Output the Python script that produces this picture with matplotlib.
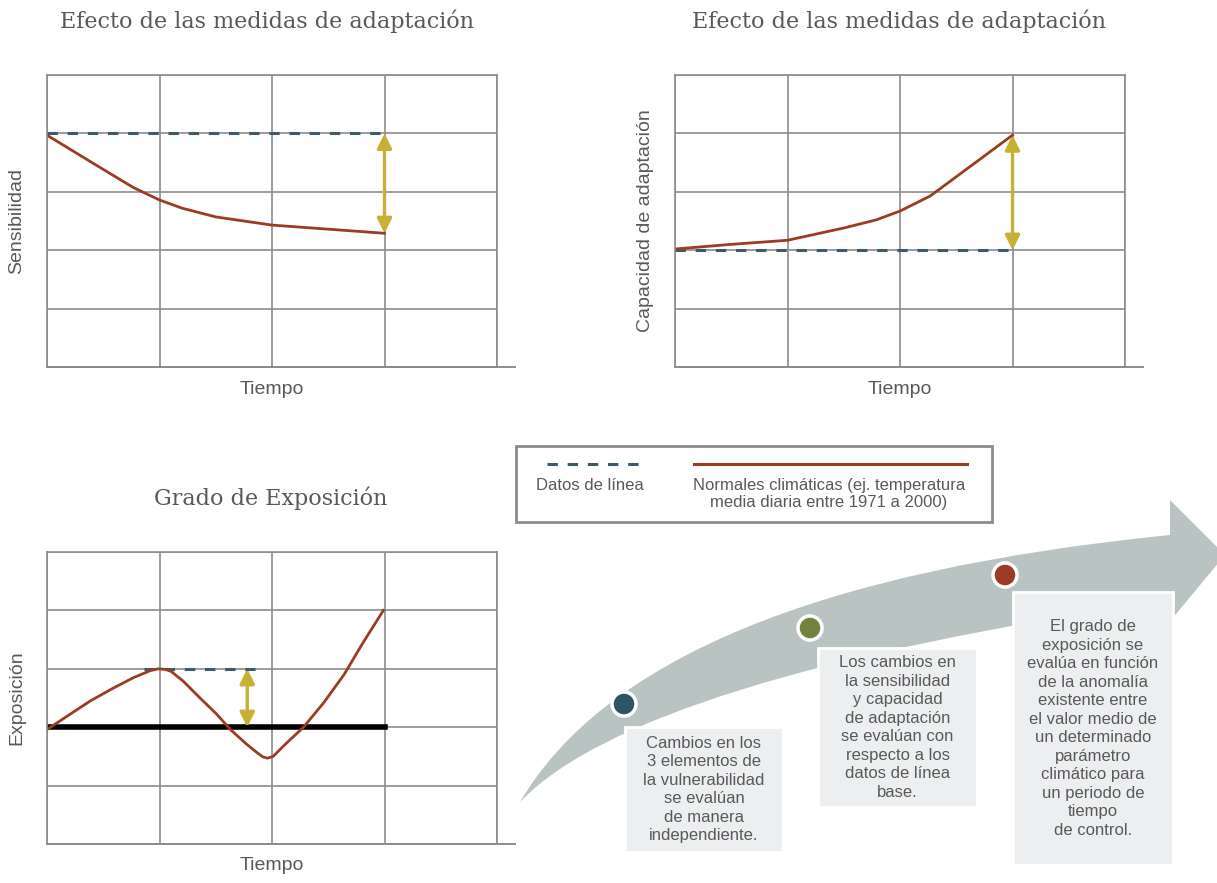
import matplotlib.pyplot as plt
from matplotlib.patches import Rectangle, PathPatch, Circle
from matplotlib.path import Path

# Datos (eje x: tiempo 0-4, eje y: 0-5)
sens_x = [0, 0.4, 0.77, 1.0, 1.2, 1.5, 2.0, 2.5, 3.0]
sens_y = [3.97, 3.5, 3.07, 2.86, 2.72, 2.57, 2.43, 2.36, 2.29]
sens_base = 4.0

cap_x = [0, 0.5, 1.0, 1.5, 1.79, 2.0, 2.27, 2.6, 3.0]
cap_y = [2.02, 2.1, 2.17, 2.38, 2.52, 2.67, 2.93, 3.4, 3.97]
cap_base = 2.0

exp_x = [0, 0.18, 0.385, 0.59, 0.77, 0.92, 0.99, 1.05, 1.10, 1.21, 1.36, 1.51, 1.63,
         1.78, 1.87, 1.92, 1.96, 2.01, 2.13, 2.28, 2.46, 2.64, 2.81, 2.99]
exp_y = [1.96, 2.19, 2.45, 2.67, 2.85, 2.97, 3.0, 2.99, 2.96, 2.79, 2.50, 2.22, 1.96,
         1.70, 1.56, 1.49, 1.47, 1.50, 1.73, 2.0, 2.42, 2.90, 3.45, 4.0]
exp_media = 2.0
exp_base = 3.0
exp_base_x = [0.86, 1.85]
exp_flecha_x = 1.78

textos_cajas = [
    "Cambios en los\n3 elementos de\nla vulnerabilidad\nse evalúan\nde manera\nindependiente.",
    "Los cambios en\nla sensibilidad\ny capacidad\nde adaptación\nse evalúan con\nrespecto a los\ndatos de línea\nbase.",
    "El grado de\nexposición se\nevalúa en función\nde la anomalía\nexistente entre\nel valor medio de\nun determinado\nparámetro\nclimático para\nun periodo de\ntiempo\nde control.",
]

ROJO = '#9c3b24'
AZUL = '#3d5a6a'
ORO = '#c8b035'
GRIS = '#8c8c8c'
TXT = '#595959'
SANS = 'Liberation Sans'

W, H = 1217, 883
fig = plt.figure(figsize=(W / 100, H / 100), dpi=100)

# capa de fondo en pixeles para la flecha, la leyenda y las cajas
bg = fig.add_axes([0, 0, 1, 1], zorder=0)
bg.set_xlim(0, W)
bg.set_ylim(H, 0)
bg.axis('off')


def ftext(x, y, s, **kw):
    bg.text(x, y, s, ha='center', va='center', **kw)


def panel(left, top, titulo, tx, ylabel, lx):
    ax = fig.add_axes([left / W, 1 - (top + 292) / H, 450 / W, 292 / H], zorder=1)
    ax.set_xlim(0, 4)
    ax.set_ylim(0, 5)
    ax.set_xticks(range(5))
    ax.set_yticks(range(6))
    ax.grid(True, color=GRIS, lw=1.2)
    ax.tick_params(length=0, labelbottom=False, labelleft=False)
    for s in ax.spines.values():
        s.set_color(GRIS)
        s.set_linewidth(1.2)
    ax.plot([0, 4.16], [0, 0], color=GRIS, lw=1.4, clip_on=False)
    ax.patch.set_alpha(0)
    ftext(tx, top - 54, titulo, family='DejaVu Serif', fontsize=16, color=TXT)
    ftext(lx, top + 146, ylabel, family=SANS, fontsize=14, color=TXT, rotation=90)
    ftext(left + 225, top + 314, 'Tiempo', family=SANS, fontsize=14, color=TXT)
    return ax


def flecha(ax, x, y0, y1):
    ax.annotate('', xy=(x, y1), xytext=(x, y0),
                arrowprops=dict(arrowstyle='<|-|>', color=ORO, lw=2.4,
                                mutation_scale=22, shrinkA=0, shrinkB=0))


dash = dict(color=AZUL, lw=2.2, dashes=(3.4, 3.2))

ax1 = panel(47, 75, 'Efecto de las medidas de adaptación', 267, 'Sensibilidad', 17)
ax1.plot([0, 3], [sens_base, sens_base], **dash)
ax1.plot(sens_x, sens_y, color=ROJO, lw=2)
flecha(ax1, 3, sens_base, sens_y[-1])

ax2 = panel(675, 75, 'Efecto de las medidas de adaptación', 899, 'Capacidad de adaptación', 646)
ax2.plot([0, 3], [cap_base, cap_base], **dash)
ax2.plot(cap_x, cap_y, color=ROJO, lw=2)
flecha(ax2, 3, cap_base, cap_y[-1])

ax3 = panel(47, 552, 'Grado de Exposición', 271, 'Exposición', 17)
ax3.plot([0, 3], [exp_media, exp_media], color='black', lw=4)
ax3.plot(exp_base_x, [exp_base, exp_base], **dash)
ax3.plot(exp_x, exp_y, color=ROJO, lw=2)
flecha(ax3, exp_flecha_x, exp_base, exp_media)

# leyenda
bg.add_patch(Rectangle((516, 446), 476, 76, fill=False, ec=GRIS, lw=2))
bg.plot([547, 645], [464, 464], **dash)
bg.plot([694, 967], [464, 464], color=ROJO, lw=2.2)
ftext(590, 486, 'Datos de línea', family=SANS, fontsize=12, color=TXT)
ftext(829, 494, 'Normales climáticas (ej. temperatura\nmedia diaria entre 1971 a 2000)',
      family=SANS, fontsize=12, color=TXT, linespacing=1.2)

# flecha curva
verts = [(520, 802), (646, 587), (1170, 535), (1170, 500), (1225, 555),
         (1171, 620), (1170, 600), (638, 678), (520, 802), (520, 802)]
codes = [Path.MOVETO, Path.CURVE3, Path.CURVE3, Path.LINETO, Path.LINETO,
         Path.LINETO, Path.LINETO, Path.CURVE3, Path.CURVE3, Path.CLOSEPOLY]
bg.add_patch(PathPatch(Path(verts, codes), fc='#b9c4c2', ec='none', zorder=1))

cajas = [(625, 727, 158, 125), (818, 648, 159, 159), (1013, 592, 160, 273)]
puntos = [((624, 704), '#2e5468'), ((810, 628), '#728240'), ((1005, 575), '#9b3a26')]
for (x, y, w, h), txt in zip(cajas, textos_cajas):
    bg.add_patch(Rectangle((x, y), w, h, fc='#eceef0', ec='white', lw=2, zorder=2))
    bg.text(x + w / 2, y + h / 2, txt, ha='center', va='center', family=SANS,
            fontsize=12, color=TXT, linespacing=1.29, zorder=3)
for (cx, cy), c in puntos:
    bg.add_patch(Circle((cx, cy), 12, fc=c, ec='white', lw=2.5, zorder=3))

fig.savefig('out.png', dpi=100)
